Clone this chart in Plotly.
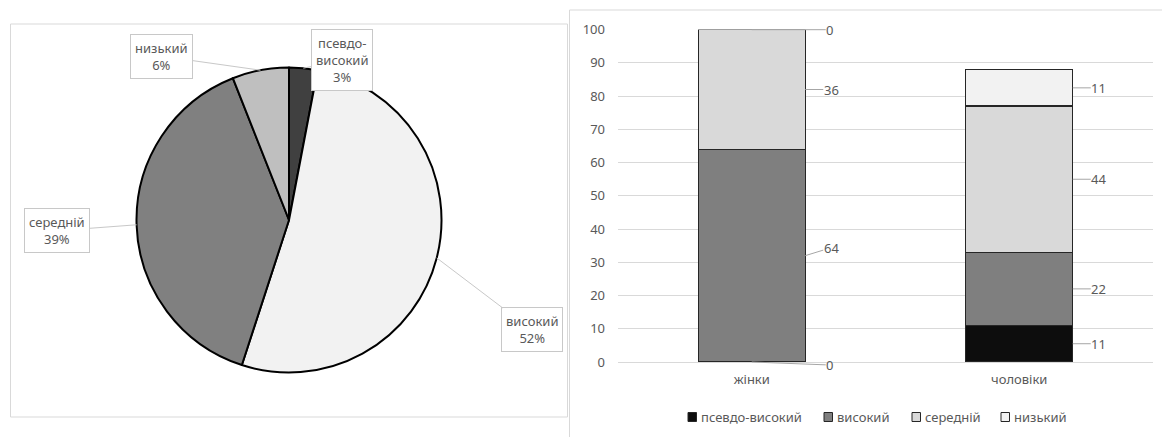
import math
import plotly.graph_objects as go

W, H = 1162, 437

# ---- pie: distribution of levels (percent) ----
pie_labels = ["псевдо-високий", "високий", "середній", "низький"]
pie_box_text = ["псевдо-<br>високий", "високий", "середній", "низький"]
pie_values = [3, 52, 39, 6]

# ---- stacked bars: levels by group ----
groups = ["жінки", "чоловіки"]
series_names = ["псевдо-високий", "високий", "середній", "низький"]
pseudo_high = [0, 11]
high = [64, 22]
medium = [36, 44]
low = [0, 11]
y_ticks = list(range(0, 101, 10))

TEXT = "#595959"
FONT = "Noto Sans"
FS = 13
pie_colors = ["#404040", "#f2f2f2", "#808080", "#bfbfbf"]
bar_colors = ["#0d0d0d", "#7f7f7f", "#d9d9d9", "#f2f2f2"]


def px(x):
    return x / W


def py(y):
    return 1 - y / H


fig = go.Figure()

# pie placement (pixels)
cx, cy, R = 289, 220, 152.5
fig.add_trace(go.Pie(
    labels=pie_labels, values=pie_values, sort=False, direction="clockwise",
    rotation=0, textinfo="none", hoverinfo="label+percent",
    marker=dict(colors=pie_colors, line=dict(color="#000000", width=2)),
    domain=dict(x=[px(cx - R), px(cx + R)], y=[py(cy + R), py(cy - R)]),
    showlegend=False, automargin=False,
))

# stacked bars
series_values = [pseudo_high, high, medium, low]
for name, vals, col in zip(series_names, series_values, bar_colors):
    fig.add_trace(go.Bar(
        x=groups, y=vals, name=name, showlegend=False,
        marker=dict(color=col, line=dict(color="#262626", width=1.3)),
        xaxis="x", yaxis="y",
    ))

annotations = []

# pie callout boxes, anchored on the rim at each slice's middle angle
pie_offsets = {
    "псевдо-високий": (39, -8),
    "високий": (95, 72),
    "середній": (-80, 6),
    "низький": (-99, -14),
}
total = sum(pie_values)
cum = 0
for lab, txt, v in zip(pie_labels, pie_box_text, pie_values):
    mid = (cum + v / 2) / total
    cum += v
    th = 2 * math.pi * mid
    ex = cx + R * math.sin(th)
    ey = cy - R * math.cos(th)
    ax, ay = pie_offsets[lab]
    annotations.append(dict(
        x=px(ex), y=py(ey), xref="paper", yref="paper",
        text=f"{txt}<br>{round(100 * v / total)}%",
        showarrow=True, arrowhead=0, arrowwidth=1, arrowcolor="#c8c8c8",
        ax=ax, ay=ay, standoff=0,
        bgcolor="#ffffff", bordercolor="#c8c8c8", borderwidth=1, borderpad=4,
        font=dict(family=FONT, size=FS, color=TEXT),
    ))

# bar value labels with short leader lines
label_dy = {("жінки", "високий"): -8, ("жінки", "псевдо-високий"): 3}
half_bar = 0.2
for gi, g in enumerate(groups):
    base = 0
    for name, vals in zip(series_names, series_values):
        v = vals[gi]
        mid = base + v / 2
        base += v
        if v == 0:
            xa, ax = gi, 78
        else:
            xa, ax = gi + half_bar, 26
        annotations.append(dict(
            x=xa, y=mid, xref="x", yref="y", text=str(v),
            showarrow=True, arrowhead=0, arrowwidth=1, arrowcolor="#a6a6a6",
            ax=ax, ay=label_dy.get((g, name), 0), standoff=0,
            borderpad=0, font=dict(family=FONT, size=FS, color=TEXT),
        ))

shapes = []
# panel frames
shapes.append(dict(type="rect", xref="paper", yref="paper",
                   x0=px(10.5), x1=px(567.5), y0=py(417), y1=py(24),
                   line=dict(color="#d9d9d9", width=1), layer="below"))
shapes.append(dict(type="rect", xref="paper", yref="paper",
                   x0=px(569.5), x1=px(1175), y0=py(445), y1=py(10),
                   line=dict(color="#d9d9d9", width=1), layer="below"))

# legend for the bar chart
legend_x = [688, 824, 912, 1001]
ly = 417
for name, col, lx in zip(series_names, bar_colors, legend_x):
    shapes.append(dict(type="rect", xref="paper", yref="paper",
                       x0=px(lx), x1=px(lx + 8.5), y0=py(ly + 4.5), y1=py(ly - 4.5),
                       fillcolor=col, line=dict(color="#262626", width=1)))
    annotations.append(dict(
        x=px(lx + 10.5), y=py(ly), xref="paper", yref="paper",
        xanchor="left", yanchor="middle", text=name, showarrow=False,
        font=dict(family=FONT, size=FS, color=TEXT),
    ))

fig.update_layout(
    width=W, height=H,
    margin=dict(l=0, r=0, t=0, b=0, pad=0, autoexpand=False),
    paper_bgcolor="#ffffff", plot_bgcolor="#ffffff",
    barmode="stack", bargap=0.6,
    font=dict(family=FONT, size=FS, color=TEXT),
    xaxis=dict(domain=[px(618), px(1153)], type="category", automargin=False,
               showgrid=False, showline=False, zeroline=False, ticks="",
               ticklabelstandoff=8, tickfont=dict(family=FONT, size=FS, color=TEXT)),
    yaxis=dict(domain=[py(362), py(29.7)], range=[0, 100], tickvals=y_ticks,
               automargin=False,
               showgrid=True, gridcolor="#d9d9d9", gridwidth=1,
               zeroline=True, zerolinecolor="#d9d9d9", zerolinewidth=1,
               showline=False, ticks="", ticklabelstandoff=12,
               tickfont=dict(family=FONT, size=FS, color=TEXT)),
    annotations=annotations, shapes=shapes,
    showlegend=False,
)

fig.write_html("out.html")
